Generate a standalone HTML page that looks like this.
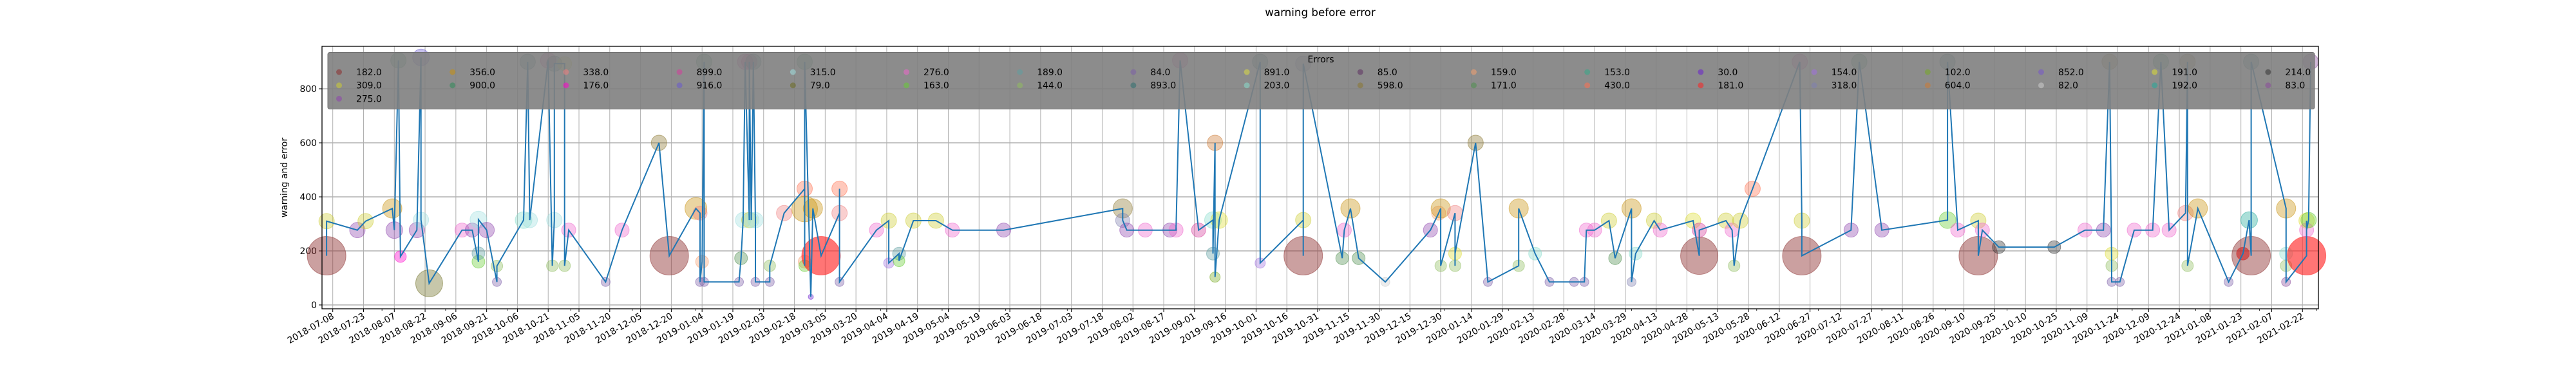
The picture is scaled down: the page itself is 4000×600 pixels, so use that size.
<!DOCTYPE html>
<html><head><meta charset="utf-8"><style>
html,body{margin:0;padding:0;background:#fff}
svg{display:block;font-family:"DejaVu Sans","Liberation Sans",sans-serif}
</style></head><body>
<svg id="chart" width="4000" height="600" viewBox="0 0 4000 600" xmlns="http://www.w3.org/2000/svg">
<text x="2050" y="25" text-anchor="middle" font-size="16.7">warning before error</text>
<text transform="translate(446,276) rotate(-90)" text-anchor="middle" font-size="13.9">warning and error</text>
<g id="grid"></g>
<g id="xaxis"></g>
<g id="yaxis"></g>
<g id="bubbles"></g>
<g id="series"></g>
<g id="legend"></g>
<rect x="500" y="72" width="3100" height="408" fill="none" stroke="#000" stroke-width="1.3"/>
</svg>
<script>
const yTicks = [0, 200, 400, 600, 800];
const legendLabels = ['182.0','309.0','275.0','356.0','900.0','338.0','176.0','899.0','916.0','315.0','79.0','276.0','163.0','189.0','144.0','84.0','893.0','891.0','203.0','85.0','598.0','159.0','171.0','153.0','430.0','30.0','181.0','154.0','318.0','102.0','604.0','852.0','82.0','191.0','192.0','214.0','83.0'];
const legendColors = ['#8c2d2d','#cccc33','#8e44ad','#c8900b','#2e8b57','#f08080','#ff00cc','#d63c9c','#6a5acd','#a0e0e0','#6b6b20','#ee66cc','#66cc33','#5f9ea0','#8fbc5f','#7b5ea7','#2f6f6f','#dddd44','#88ddcc','#5c3060','#8b7730','#f4a070','#4f8f4f','#33aa88','#ff7050','#6a1fd0','#ff2020','#a070e0','#8080b0','#77aa22','#cc7a33','#7755cc','#cccccc','#dddd33','#22aa99','#333333','#8a4a9a'];
const days = [-3,-3,12,16,29,30,32,33,41,43,43,47,63,68,71,71,71,75,80,80,93,95,96,105,107,108,108,113,113,115,133,141,159,164,177,179,179,180,181,181,198,199,200,201,203,203,204,205,206,206,213,213,220,230,230,230,230,230,233,234,238,247,247,247,265,271,271,276,276,283,294,302,327,385,385,387,396,408,411,413,422,429,429,430,430,432,452,452,473,473,473,492,493,496,500,513,535,539,540,540,547,547,547,557,563,578,578,586,593,605,610,611,615,622,625,633,633,635,644,647,663,666,666,679,682,683,686,692,715,716,716,740,744,755,787,787,792,802,802,804,812,839,854,863,866,867,867,867,871,878,887,891,895,903,904,904,909,924,931,934,935,935,952,952,952,952,962,962,962,963,964];
const values = [182,310,277,310,357,277,905,179,277,916,315,80,277,277,160,191,316,277,85,144,314,900,314,905,145,314,893,893,145,277,85,277,600,182,357,340,85,160,900,85,85,173,314,900,314,900,314,900,314,85,85,145,340,430,355,160,145,900,30,357,182,340,430,85,277,312,155,190,163,312,312,277,277,357,313,277,277,277,277,905,277,314,190,600,103,314,900,155,314,182,893,173,277,357,173,85,277,340,357,145,340,145,190,600,85,145,357,190,85,85,85,277,277,312,173,357,85,190,312,277,312,182,277,312,277,145,312,430,900,312,182,277,900,277,314,900,277,312,182,277,214,214,277,277,900,145,190,85,85,277,277,900,277,340,900,145,357,85,190,314,182,900,357,190,145,85,182,312,277,314,900];
const errCats = ['182','309','275','309','356','275','900','176','275','916','315','79','276','275','163','189','315','275','84','144','203','893','315','899','144','315','893','891','144','276','84','276','598','182','356','338','84','159','900','84','84','171','315','899','309','899','315','893','315','84','84','144','338','430','356','159','163','900','30','356','181','338','430','84','276','309','154','189','163','309','309','276','275','598','318','275','276','275','276','899','899','203','189','604','102','191','893','154','309','182','318','171','276','356','171','82','275','159','356','144','338','144','191','598','84','144','356','203','84','84','84','276','276','309','171','356','318','203','309','276','191','182','899','309','276','144','309','430','899','309','182','275','900','275','163','893','276','309','182','276','214','214','276','275','598','144','191','84','84','276','276','900','276','338','598','144','356','84','181','192','182','893','356','203','144','83','181','191','276','163','83'];
const sizes = [30,12,12,12,15,13,12,9,12,13,12,21,11,11,10,10,13,12,7,9,13,12,12,12,9,12,12,11,9,11,7,11,12,30,17,11,7,10,12,7,7,10,12,12,12,12,12,12,12,7,7,9,12,12,20,10,9,12,4,15,30,12,12,7,11,12,8,10,9,12,12,11,11,15,11,11,11,11,11,12,11,13,10,12,8,13,12,8,12,30,12,10,11,15,10,7,11,11,15,9,12,9,10,12,7,9,15,10,7,7,7,11,11,12,10,15,7,10,12,11,12,29,11,12,11,9,12,12,12,12,30,11,12,11,13,12,11,12,30,11,10,10,11,11,12,9,10,7,7,11,11,12,11,12,12,9,15,7,10,13,30,12,15,10,9,7,30,12,11,12,12];

const NS = 'http://www.w3.org/2000/svg';
const startDate = Date.UTC(2018, 6, 8);
const X0 = 516.7, PXDAY = 3.186;
function xScale(d){ return X0 + d * PXDAY; }
function yScale(v){ return 474 - v * 0.42; }
function mk(tag, attrs, parent){ const e = document.createElementNS(NS, tag); for (const k in attrs) e.setAttribute(k, attrs[k]); parent.appendChild(e); return e; }
function colorOf(cat){ const i = legendLabels.indexOf(cat + '.0'); return i >= 0 ? legendColors[i] : '#888'; }
function alphaOf(cat){ return cat === '181' ? 0.62 : (cat === '182' ? 0.45 : 0.38); }

const grid = document.getElementById('grid');
const xaxis = document.getElementById('xaxis');
const yaxis = document.getElementById('yaxis');
for (let i = 0; i <= 64; i++) {
  const d = i * 15; const x = xScale(d);
  if (x > 3600) break;
  const gl = mk('line', {x1:x, x2:x, y1:72, y2:480, stroke:'#b0b0b0', 'stroke-width':1}, grid);
  
  
  const tk = mk('line', {x1:x, x2:x, y1:480, y2:485, stroke:'#000', 'stroke-width':1}, xaxis);
  
  
  const dt = new Date(startDate + d * 86400000);
  const lbl = dt.toISOString().slice(0, 10);
  const t = mk('text', {transform:`translate(${x+3},494) rotate(-30)`, 'text-anchor':'end', 'font-size':'13.9'}, xaxis);
  t.textContent = lbl;
  
  
}
for (let y = 2018; y <= 2021; y++) for (let m = 0; m < 12; m++) {
  const d = (Date.UTC(y, m, 1) - startDate) / 86400000; const x = xScale(d);
  if (x < 500 || x > 3600) continue;
  const mt = mk('line', {x1:x, x2:x, y1:480, y2:483, stroke:'#000', 'stroke-width':0.8}, xaxis);
  
  
}
yTicks.forEach(v => {
  const y = yScale(v);
  const gl = mk('line', {x1:500, x2:3600, y1:y, y2:y, stroke:'#b0b0b0', 'stroke-width':1.5}, grid);
  
  
  const tk = mk('line', {x1:495, x2:500, y1:y, y2:y, stroke:'#000', 'stroke-width':1}, yaxis);
  
  
  const t = mk('text', {x:492, y:y+5, 'text-anchor':'end', 'font-size':'13.9'}, yaxis);
  t.textContent = String(v);
  
  
});
const bub = document.getElementById('bubbles');
days.forEach((d, i) => {
  const c = colorOf(errCats[i]);
  const e = mk('circle', {cx:xScale(d), cy:yScale(values[i]), r:sizes[i], fill:c, 'fill-opacity':alphaOf(errCats[i]), stroke:c, 'stroke-opacity':0.5, 'stroke-width':1}, bub);
  
  
});
const pts = days.map((d, i) => xScale(d).toFixed(1) + ',' + yScale(values[i]).toFixed(1)).join(' ');
const pl = mk('polyline', {points:pts, fill:'none', stroke:'#1f77b4', 'stroke-width':2, 'stroke-linejoin':'miter'}, document.getElementById('series'));


const leg = document.getElementById('legend');
const box = mk('rect', {x:509, y:81.5, width:3085, height:88, rx:3, fill:'#808080', 'fill-opacity':0.9, stroke:'#707070', 'stroke-width':1}, leg);


const lt = mk('text', {x:2051, y:97, 'text-anchor':'middle', 'font-size':'13.9'}, leg);
lt.textContent = 'Errors';


let idx = 0;
for (let col = 0; col < 18; col++) {
  const rows = col === 0 ? 3 : 2;
  for (let r = 0; r < rows; r++) {
    const x = 526.5 + col * 176.2, y = 112 + r * 20.7;
    const m = mk('circle', {cx:x, cy:y, r:4.5, fill:legendColors[idx], 'fill-opacity':0.55}, leg);
    
    
    const t = mk('text', {x:x+26.5, y:y+5, 'font-size':'13.9'}, leg);
    t.textContent = legendLabels[idx];
    
    
    idx++;
  }
}
</script>
</body></html>
